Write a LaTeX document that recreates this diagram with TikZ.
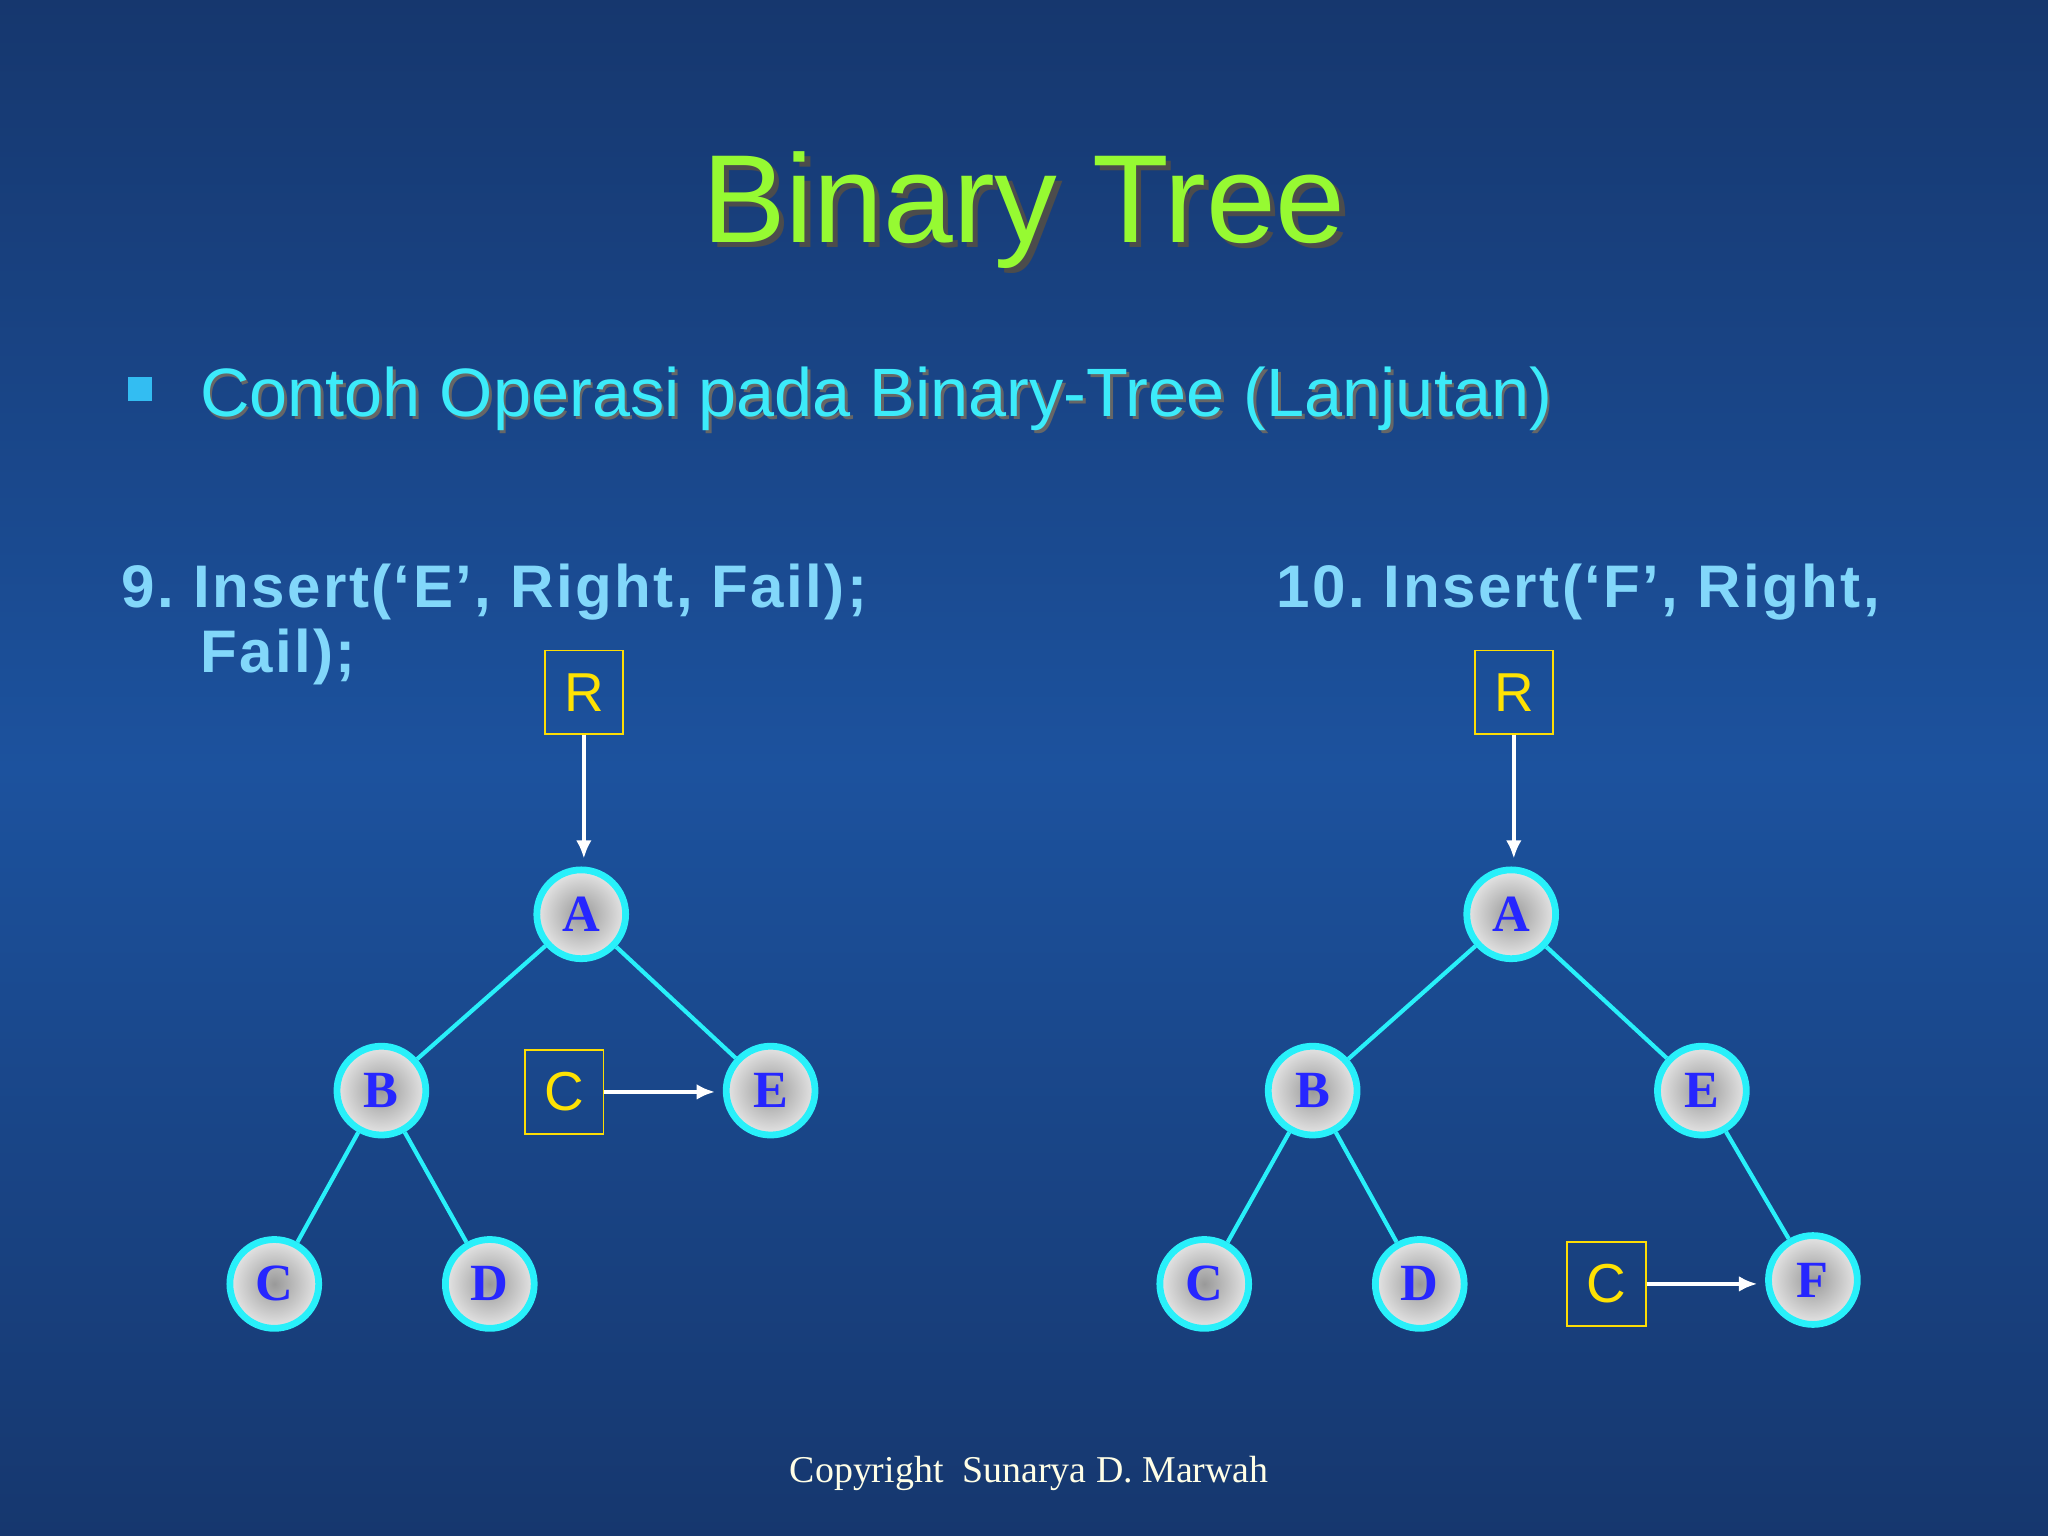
\documentclass[tikz,border=0pt]{standalone}
\usepackage{fontspec}
\setmainfont{Liberation Sans}
\newfontfamily\serifb{Liberation Serif}
\newfontfamily\spaced[LetterSpace=4]{Liberation Sans}
\usetikzlibrary{arrows.meta}
\begin{document}
\begin{tikzpicture}[x=0.5pt,y=-0.5pt,
  tn/.style={circle,draw={rgb,255:red,40;green,240;blue,250},line width=2.6pt,minimum size=34pt,inner sep=0pt,
    inner color=gray!80,outer color=gray!20,text=blue!85!white,font=\serifb\bfseries\fontsize{20}{20}\selectfont},
  pbox/.style={draw=yellow!80!orange,line width=0.7pt,minimum width=30pt,minimum height=32pt,inner sep=0pt,text=yellow!85!orange,font=\fontsize{21}{21}\selectfont},
  edge/.style={draw={rgb,255:red,40;green,240;blue,250},line width=1.6pt},
  arr/.style={white,line width=1.6pt,-{Latex[length=7pt,width=6pt]}},
  lab/.style={anchor=base west,inner sep=0pt,text={rgb,255:red,130;green,215;blue,250},font=\spaced\bfseries\fontsize{23}{23}\selectfont}]
\fill[top color={rgb,255:red,22;green,55;blue,110}, bottom color={rgb,255:red,22;green,55;blue,110}, middle color={rgb,255:red,28;green,82;blue,158}] (0,0) rectangle (1568,1176);
\useasboundingbox (0,0) rectangle (1568,1176);
% title
\node[text=black!70,font=\fontsize{48}{48}\selectfont] at (788,165) {Binary Tree};
\node (title) [text={rgb,255:red,150;green,250;blue,50},font=\fontsize{48}{48}\selectfont] at (784,161) {Binary Tree};
\fill[cyan!80!white] (98,289) rectangle (116,307);
\node[anchor=west,inner sep=0pt,text=black!60,font=\fontsize{26.2}{26.2}\selectfont] at (155,308) {Contoh Operasi pada Binary-Tree (Lanjutan)};
\node (sub) [anchor=west,inner sep=0pt,text={rgb,255:red,60;green,235;blue,250},font=\fontsize{26.2}{26.2}\selectfont] at (153,305) {Contoh Operasi pada Binary-Tree (Lanjutan)};
\node (l9) [lab] at (93,465) {9.\ Insert(‘E’, Right, Fail);};
\node (l9b) [lab] at (153,515) {Fail);};
\node (l10) [lab] at (977,465) {10.\ Insert(‘F’, Right,};
% left tree
\node (R1) [pbox] at (447,530) {R};
\node (A1) [tn] at (445,700) {A};
\node (B1) [tn] at (292,835) {B};
\node (E1) [tn] at (590,835) {E};
\node (C1) [tn] at (210,983) {C};
\node (D1) [tn] at (375,983) {D};
\node (P1) [pbox] at (432,836) {C};
\draw[edge] (A1)--(B1); \draw[edge] (A1)--(E1);
\draw[edge] (B1)--(C1); \draw[edge] (B1)--(D1);
\draw[arr] (R1.south)--([yshift=3pt]R1.south |- A1.north);
\draw[arr] (P1.east)--([xshift=-3pt]E1.west |- P1.east);
% right tree
\node (R2) [pbox] at (1159,530) {R};
\node (A2) [tn] at (1157,700) {A};
\node (B2) [tn] at (1005,835) {B};
\node (E2) [tn] at (1303,835) {E};
\node (C2) [tn] at (922,983) {C};
\node (D2) [tn] at (1087,983) {D};
\node (F2) [tn] at (1388,980) {F};
\node (P2) [pbox] at (1230,983) {C};
\draw[edge] (A2)--(B2); \draw[edge] (A2)--(E2);
\draw[edge] (B2)--(C2); \draw[edge] (B2)--(D2); \draw[edge] (E2)--(F2);
\draw[arr] (R2.south)--([yshift=3pt]R2.south |- A2.north);
\draw[arr] (P2.east)--([xshift=-3pt]F2.west |- P2.east);
\node (copy) [text=white!90!yellow,font=\serifb\fontsize{14.5}{14.5}\selectfont] at (788,1128) {Copyright\ \ Sunarya D. Marwah};
\end{tikzpicture}
\end{document}
